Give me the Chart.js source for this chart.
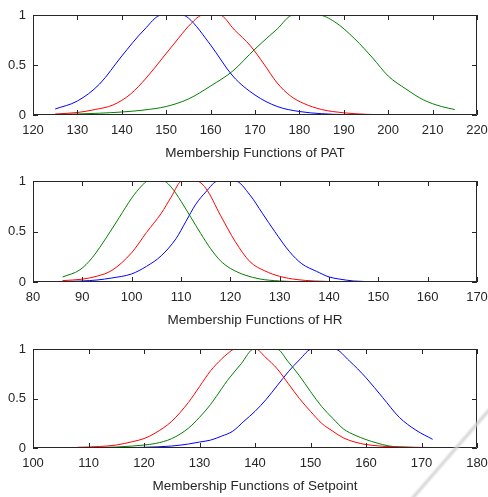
<!DOCTYPE html>
<html>
<head>
<meta charset="utf-8">
<title>Membership Functions</title>
<script src="https://cdn.jsdelivr.net/npm/chart.js@4.4.1/dist/chart.umd.min.js"></script>
<style>
  html, body { margin: 0; padding: 0; background: #fff; }
  #wrap { position: relative; width: 488px; height: 497px; overflow: hidden; }
  .panel { position: absolute; left: 0; width: 488px; }
  .panel canvas { display: block; }
  .streak {
    position: absolute; left: 410px; top: 498px; width: 128px; height: 6px;
    background: linear-gradient(to bottom, rgba(220,220,220,0), rgba(208,208,208,0.9), rgba(220,220,220,0));
    transform: rotate(-49deg); transform-origin: 0 50%;
  }
</style>
</head>
<body>
<div id="wrap">
  <div class="panel" style="top:0"><canvas id="patChart" width="488" height="166"></canvas></div>
  <div class="panel" style="top:166px"><canvas id="hrChart" width="488" height="166"></canvas></div>
  <div class="panel" style="top:332px"><canvas id="spChart" width="488" height="165"></canvas></div>
  <div class="streak"></div>
</div>
<script>
// PAT membership functions
const patBlueX  = [125, 130, 135, 140, 145, 149, 153.5, 155, 160, 165, 170, 175, 180, 185, 190, 200, 215];
const patBlueY  = [0.06, 0.14, 0.31, 0.59, 0.85, 1, 1, 0.97, 0.70, 0.39, 0.20, 0.085, 0.035, 0.013, 0.004, 0, 0];
const patRedX   = [125, 130, 134, 138, 142, 145.5, 149, 153, 155.5, 158.3, 162, 165.4, 169, 172, 175, 178, 181, 185, 190, 195, 200, 215];
const patRedY   = [0.01, 0.025, 0.055, 0.10, 0.21, 0.37, 0.56, 0.78, 0.91, 1, 1, 0.85, 0.69, 0.51, 0.32, 0.19, 0.115, 0.055, 0.022, 0.007, 0.002, 0];
const patGreenX = [125, 130, 135, 140, 145, 150, 155, 160, 165, 170, 175, 178.6, 184.2, 188, 192.5, 196.5, 200, 204, 208, 212, 215];
const patGreenY = [0.005, 0.01, 0.018, 0.03, 0.05, 0.085, 0.16, 0.29, 0.44, 0.66, 0.86, 1, 1, 0.93, 0.76, 0.57, 0.39, 0.26, 0.15, 0.085, 0.055];

// HR membership functions
const hrGreenX = [86, 89.5, 92, 95, 97.5, 100, 102, 103.3, 106.4, 108, 110, 112, 114, 116, 118, 120, 123, 126, 130, 135, 140, 170];
const hrGreenY = [0.05, 0.12, 0.24, 0.45, 0.64, 0.83, 0.95, 1, 1, 0.94, 0.80, 0.64, 0.48, 0.33, 0.21, 0.135, 0.068, 0.03, 0.01, 0.002, 0, 0];
const hrRedX   = [86, 90, 93, 96, 100, 103, 106, 108, 110.2, 113.1, 115, 118, 121, 124, 127, 130, 133.5, 137, 140, 145, 150, 170];
const hrRedY   = [0.014, 0.028, 0.058, 0.115, 0.29, 0.49, 0.68, 0.84, 1, 1, 0.93, 0.66, 0.40, 0.20, 0.11, 0.056, 0.024, 0.01, 0.005, 0.001, 0, 0];
const hrBlueX  = [86, 90, 93, 96, 100, 103, 106, 109, 111, 113, 115, 117.5, 121, 124, 126.5, 129, 132, 134.5, 137.5, 140, 142, 145, 150, 155, 170];
const hrBlueY  = [0.003, 0.01, 0.02, 0.04, 0.08, 0.155, 0.26, 0.43, 0.60, 0.77, 0.89, 1, 1, 0.86, 0.68, 0.50, 0.30, 0.18, 0.105, 0.05, 0.03, 0.01, 0.002, 0, 0];

// Setpoint membership functions
const spRedX   = [108, 112, 115, 118, 120, 122, 125, 128, 130, 132, 134, 135, 136.4, 140.1, 142, 144, 146, 148, 150, 152, 154, 156, 158, 160, 165, 172];
const spRedY   = [0.007, 0.015, 0.03, 0.065, 0.095, 0.15, 0.27, 0.46, 0.62, 0.78, 0.9, 0.95, 1, 1, 0.91, 0.80, 0.65, 0.50, 0.37, 0.25, 0.17, 0.10, 0.06, 0.035, 0.012, 0.005];
const spGreenX = [108, 112, 115, 118, 120, 122, 125, 128, 130, 132, 134, 135, 137.5, 139.8, 143.9, 146, 148, 150, 152, 154, 156, 158, 160, 162, 164, 166, 172];
const spGreenY = [0.002, 0.005, 0.01, 0.02, 0.03, 0.045, 0.095, 0.2, 0.31, 0.44, 0.6, 0.68, 0.85, 1, 1, 0.87, 0.73, 0.57, 0.42, 0.30, 0.19, 0.13, 0.085, 0.05, 0.022, 0.01, 0.004];
const spBlueX  = [108, 115, 120, 125, 128, 130, 132, 134, 136, 138, 140, 142, 144, 146, 148, 150.3, 154.3, 157, 160, 163, 166, 169, 172];
const spBlueY  = [0, 0.002, 0.007, 0.02, 0.04, 0.06, 0.08, 0.12, 0.17, 0.27, 0.37, 0.49, 0.63, 0.77, 0.89, 1, 1, 0.88, 0.71, 0.51, 0.31, 0.18, 0.088];

const yTicks = [0, 0.5, 1];

const FONT = "'Liberation Sans', Arial, sans-serif";
const INK = '#262626';

function pts(xs, ys) {
    return xs.map((x, i) => ({ x: x, y: ys[i] }));
}

function curve(xs, ys, color) {
    return {
        data: pts(xs, ys),
        borderColor: color,
        borderWidth: 1,
        pointRadius: 0,
        fill: false,
        cubicInterpolationMode: 'monotone'
    };
}

// matlab-like box with ticks pointing inward on all four sides
const boxAxes = {
    id: 'boxAxes',
    afterDraw(chart) {
        const ctx = chart.ctx;
        const a = chart.chartArea;
        const xs = chart.scales.x;
        const ys = chart.scales.y;
        ctx.save();
        ctx.strokeStyle = INK;
        ctx.lineWidth = 1;
        ctx.beginPath();
        xs.ticks.forEach(t => {
            const px = Math.round(xs.getPixelForValue(t.value)) + 0.5;
            ctx.moveTo(px, a.bottom); ctx.lineTo(px, a.bottom - 5);
            ctx.moveTo(px, a.top); ctx.lineTo(px, a.top + 5);
        });
        ys.ticks.forEach(t => {
            const py = Math.round(ys.getPixelForValue(t.value)) + 0.5;
            ctx.moveTo(a.left, py); ctx.lineTo(a.left + 5, py);
            ctx.moveTo(a.right, py); ctx.lineTo(a.right - 5, py);
        });
        ctx.rect(Math.round(a.left) + 0.5, Math.round(a.top) + 0.5,
                 Math.round(a.right - a.left) - 1, Math.round(a.bottom - a.top) - 1);
        ctx.stroke();
        ctx.restore();
    }
};

function panel(id, xMin, xMax, datasets, label, padTop, axisH, titlePad) {
    return new Chart(document.getElementById(id), {
        type: 'line',
        data: { datasets: datasets },
        options: {
            responsive: false,
            animation: false,
            layout: { padding: { top: padTop, right: 11, left: 0, bottom: 0 } },
            plugins: { legend: { display: false }, tooltip: { enabled: false } },
            scales: {
                x: {
                    type: 'linear',
                    min: xMin,
                    max: xMax,
                    afterFit: s => {
                        s.height = axisH;
                        s.paddingLeft = 0;
                        s.paddingRight = 0;
                    },
                    grid: { display: false, drawTicks: false },
                    border: { display: false },
                    ticks: {
                        stepSize: 10,
                        padding: 8,
                        maxRotation: 0,
                        color: INK,
                        font: { family: FONT, size: 13 }
                    },
                    title: {
                        display: true,
                        text: label,
                        color: INK,
                        padding: { top: 0, bottom: titlePad },
                        font: { family: FONT, size: 13.5 }
                    }
                },
                y: {
                    min: 0,
                    max: 1,
                    afterFit: s => { s.width = 33; },
                    afterBuildTicks: s => { s.ticks = yTicks.map(v => ({ value: v })); },
                    grid: { display: false, drawTicks: false },
                    border: { display: false },
                    ticks: {
                        padding: 7,
                        color: INK,
                        font: { family: FONT, size: 13 },
                        callback: v => String(v)
                    }
                }
            }
        },
        plugins: [boxAxes]
    });
}

panel('patChart', 120, 220, [
    curve(patRedX, patRedY, '#ff0000'),
    curve(patGreenX, patGreenY, '#008000'),
    curve(patBlueX, patBlueY, '#0000ff')
], 'Membership Functions of PAT', 15, 51, 5);

panel('hrChart', 80, 170, [
    curve(hrRedX, hrRedY, '#ff0000'),
    curve(hrGreenX, hrGreenY, '#008000'),
    curve(hrBlueX, hrBlueY, '#0000ff')
], 'Membership Functions of HR', 15, 50, 4);

panel('spChart', 100, 180, [
    curve(spRedX, spRedY, '#ff0000'),
    curve(spGreenX, spGreenY, '#008000'),
    curve(spBlueX, spBlueY, '#0000ff')
], 'Membership Functions of Setpoint', 17, 49, 3);
</script>
</body>
</html>
